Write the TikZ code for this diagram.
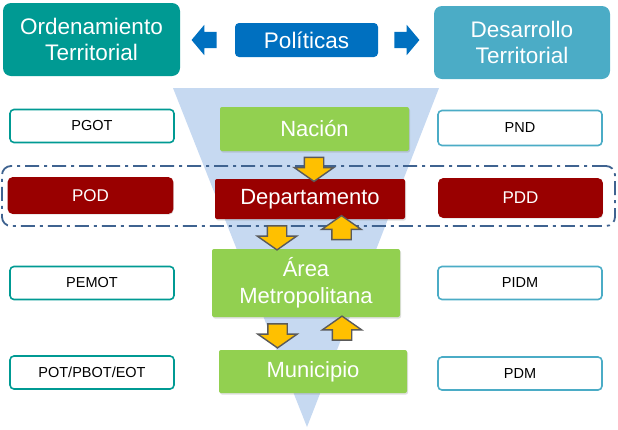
\documentclass[tikz,border=0pt]{standalone}
\usepackage{fontspec}
\setmainfont{Liberation Sans}
\usetikzlibrary{positioning,shapes.arrows,shadows}
\definecolor{Teal}{HTML}{009A93}
\definecolor{Royal}{HTML}{0070C0}
\definecolor{Cyan}{HTML}{4BACC6}
\definecolor{Funnel}{HTML}{C6D9F1}
\definecolor{Leaf}{HTML}{92D050}
\definecolor{Wine}{HTML}{990000}
\definecolor{Band}{HTML}{3F6390}
\definecolor{Gold}{HTML}{FFC000}
\definecolor{Edge}{HTML}{5A5A5A}
\tikzset{
  lift/.style={drop shadow={shadow xshift=1pt,shadow yshift=-1.5pt,opacity=.25}},
  head/.style={rounded corners=8pt,text=white,align=center,inner sep=0pt,font=\fontsize{22.5}{26}\selectfont},
  policy/.style={fill=Royal,rounded corners=4pt,text=white,inner sep=0pt,font=\fontsize{22.5}{25}\selectfont},
  level/.style={fill=Leaf,rounded corners=2pt,text=white,align=center,inner sep=0pt,font=\fontsize{22}{27}\selectfont,lift},
  ordbox/.style={draw=Teal,fill=white,line width=1.6pt,rounded corners=4pt,minimum width=164pt,minimum height=33pt,inner sep=0pt,font=\fontsize{14.5}{17}\selectfont},
  desbox/.style={ordbox,draw=Cyan},
  redbox/.style={draw=Wine,fill=Wine,text=white,font=\fontsize{17}{19}\selectfont,lift},
  band/.style={draw=Band,line width=1.8pt,rounded corners=9pt,dash pattern=on 14pt off 5pt on 3pt off 5pt},
  bluearrow/.style={single arrow,fill=Royal,inner xsep=0pt,inner ysep=8pt,single arrow head extend=7pt,single arrow tip angle=100,minimum height=25pt},
  goldarrow/.style={single arrow,fill=Gold,draw=Edge,line width=1.4pt,inner xsep=9pt,inner ysep=0pt,single arrow head extend=10pt,single arrow tip angle=110,minimum height=24pt}
}
\begin{document}
\begin{tikzpicture}[x=1pt,y=-1pt]
  \useasboundingbox (0,0) rectangle (618,429);
  \fill[Funnel] (173,88) -- (439,88) -- (307,427) -- cycle;
  \node[band,minimum width=613pt,minimum height=60pt] (region) at (308.5,196) {};
  \node[head,fill=Teal,minimum width=177pt,minimum height=73pt] (ordt) at (91.5,39.5) {Ordenamiento\\Territorial};
  \node[head,fill=Cyan,minimum width=176pt,minimum height=73pt] (dest) at (522,42.5) {Desarrollo\\Territorial};
  \node[policy,minimum width=143pt,minimum height=34pt] (pol) at (306.5,40) {Políticas};
  \node[bluearrow,shape border rotate=180] (toord) at (207.5,40) {};
  \node[bluearrow] (todes) at (403.5,40) {};
  \node[level,minimum width=189pt,minimum height=44pt] (nacion) at (314.5,129) {Nación};
  \node[level,fill=Wine,minimum width=190pt,minimum height=40pt] (depto) at (310,199) {Departamento};
  \node[level,minimum width=188pt,minimum height=68pt] (area) at (306,283) {Área\\Metropolitana};
  \node[level,minimum width=188pt,minimum height=43pt] (muni) at (313,371.5) {Municipio};
  \node[goldarrow,shape border rotate=270] (down1) at (314,166) {};
  \node[goldarrow,shape border rotate=270] (down2) at (277,234.5) {};
  \node[goldarrow,shape border rotate=90] (up2) at (341.5,231) {};
  \node[goldarrow,shape border rotate=270] (down3) at (277.5,332.5) {};
  \node[goldarrow,shape border rotate=90] (up3) at (342,331.5) {};
  \node[ordbox] (pgot) at (92,126) {PGOT};
  \node[ordbox,redbox,minimum height=35pt] (pod) at (90.5,195.5) {POD};
  \node[ordbox] (pemot) at (92,283) {PEMOT};
  \node[ordbox] (pot) at (92,372.5) {POT/PBOT/EOT};
  \node[desbox,minimum height=35pt] (pnd) at (520,128) {PND};
  \node[desbox,redbox,minimum width=163pt,minimum height=38pt] (pdd) at (520.5,198) {PDD};
  \node[desbox] (pidm) at (520,283) {PIDM};
  \node[desbox] (pdm) at (520,373.5) {PDM};
\end{tikzpicture}
\end{document}
